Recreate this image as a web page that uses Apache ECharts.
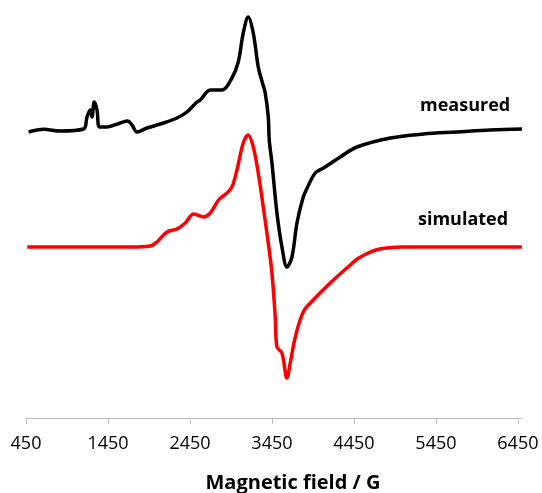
<!DOCTYPE html>
<html>
<head>
<meta charset="utf-8">
<script src="https://cdn.jsdelivr.net/npm/echarts@6/dist/echarts.min.js"></script>
<style>html,body{margin:0;padding:0;background:#fff;}#c{width:542px;height:493px;}</style>
</head>
<body>
<div id="c"></div>
<script>
// Magnetic field (G) and intensity (arbitrary units, offset traces)
const measuredField = [482, 665, 868, 1152, 1194, 1234, 1255, 1283, 1316, 1348, 1438, 1600, 1689, 1743, 1804, 1926, 2128, 2291, 2413, 2535, 2576, 2698, 2840, 2962, 3039, 3100, 3161, 3222, 3283, 3331, 3368, 3405, 3417, 3450, 3511, 3572, 3633, 3694, 3755, 3832, 3880, 3978, 4079, 4283, 4487, 4893, 5299, 5706, 6112, 6499];
const measuredValue = [286, 288.7, 287, 289, 301, 308, 301, 316, 308, 291, 291, 295, 297, 293, 286, 290, 295, 300, 306, 316, 318, 328, 328, 340, 356, 385, 401, 385, 351, 336, 325, 301, 278, 255, 205, 171, 151, 161, 195, 221, 230, 245, 250, 261, 271, 280, 284, 286, 288, 289];
const simulatedField = [466, 1722, 1966, 2048, 2170, 2291, 2393, 2494, 2616, 2698, 2799, 2901, 2962, 3023, 3100, 3161, 3222, 3283, 3344, 3405, 3450, 3490, 3511, 3572, 3633, 3673, 3735, 3832, 3954, 4161, 4405, 4490, 4600, 4720, 4850, 5050, 6499];
const simulatedValue = [171, 171, 172, 176, 186, 189, 195, 204, 201, 205, 218, 225, 231, 248, 275, 283, 271, 245, 211, 175, 145, 101, 71, 65, 40, 55, 81, 106, 118, 135, 153, 159, 164, 168, 170, 171, 171];
const tickValues = [450, 1450, 2450, 3450, 4450, 5450, 6450];
const seriesNames = ['measured', 'simulated'];
const axisTitle = 'Magnetic field / G';

const zip = (a, b) => a.map((x, i) => [x, b[i]]);
const chart = echarts.init(document.getElementById('c'), null, {renderer: 'canvas'});
chart.setOption({
  animation: false,
  backgroundColor: '#ffffff',
  grid: {left: 26, right: 20, top: 10, bottom: 75},
  xAxis: {
    type: 'value', min: 450, max: 6500,
    axisLine: {show: true, lineStyle: {color: '#bfbfbf', width: 1}},
    axisTick: {show: true, length: 6, customValues: tickValues, lineStyle: {color: '#bfbfbf'}},
    axisLabel: {customValues: tickValues, margin: 17, color: '#000', fontFamily: 'Open Sans', fontSize: 18, formatter: v => String(v)},
    splitLine: {show: false}
  },
  yAxis: {type: 'value', min: 0, max: 408, show: false},
  graphic: [
    {type: 'text', left: 420, top: 97, style: {text: seriesNames[0], font: 'bold 18px "Open Sans"', fill: '#000'}},
    {type: 'text', left: 418, top: 211, style: {text: seriesNames[1], font: 'bold 18px "Open Sans"', fill: '#000'}},
    {type: 'text', x: 293, y: 483, style: {text: axisTitle, font: 'bold 20px "Open Sans"', fill: '#000', align: 'center', verticalAlign: 'middle'}}
  ],
  series: [
    {name: seriesNames[0], type: 'line', data: zip(measuredField, measuredValue), showSymbol: false, smooth: 0.35, lineStyle: {color: '#000', width: 3.5}},
    {name: seriesNames[1], type: 'line', data: zip(simulatedField, simulatedValue), showSymbol: false, smooth: 0.35, lineStyle: {color: '#ff0000', width: 3.5}}
  ]
});
</script>
</body>
</html>
